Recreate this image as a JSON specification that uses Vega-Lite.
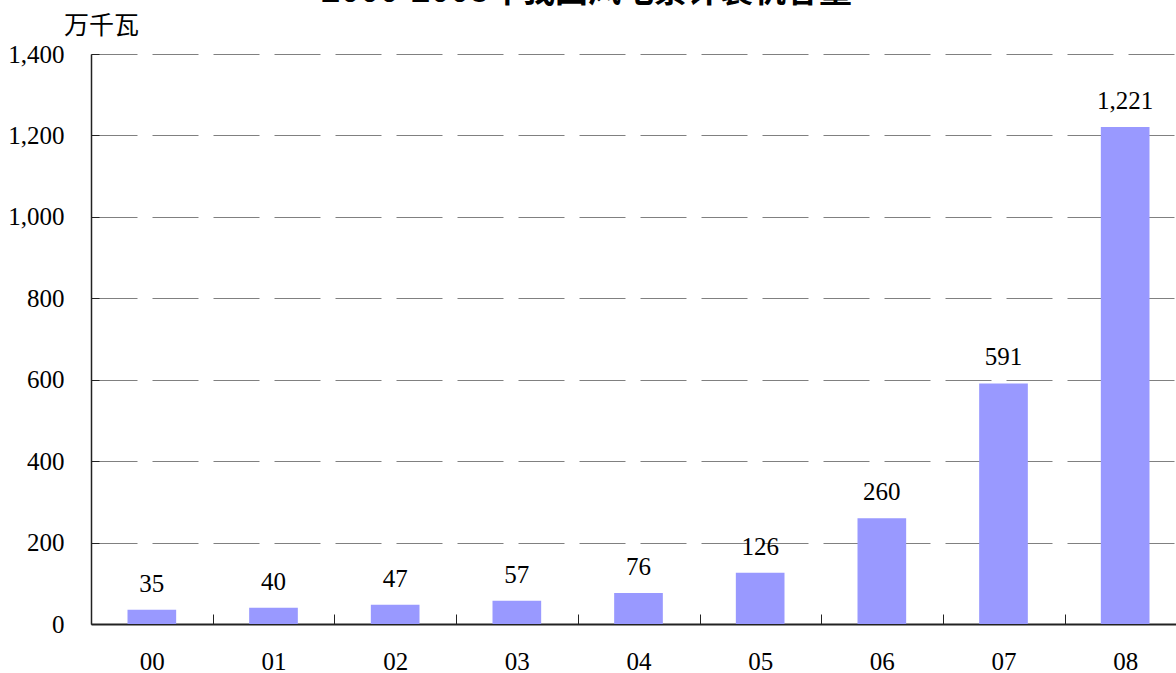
{
  "$schema": "https://vega.github.io/schema/vega-lite/v6.json",
  "autosize": {"type": "none"},
  "padding": {"left": 91, "top": 54, "right": 0, "bottom": 49},
  "width": 1085,
  "height": 570,
  "background": "white",
  "title": {
    "text": "2000-2008年我国风电累计装机容量",
    "font": "Noto Sans CJK SC",
    "fontSize": 33,
    "fontWeight": "bold",
    "color": "black",
    "frame": "group",
    "anchor": "middle",
    "baseline": "alphabetic",
    "offset": 10,
    "dy": 32,
    "dx": -47
  },
  "data": {
    "values": [
      {"year": "00", "value": 35},
      {"year": "01", "value": 40},
      {"year": "02", "value": 47},
      {"year": "03", "value": 57},
      {"year": "04", "value": 76},
      {"year": "05", "value": 126},
      {"year": "06", "value": 260},
      {"year": "07", "value": 591},
      {"year": "08", "value": 1221}
    ]
  },
  "encoding": {
    "x": {
      "field": "year",
      "type": "ordinal",
      "scale": {"paddingInner": 0.6, "paddingOuter": 0.3, "range": [0, 1095]},
      "axis": {
        "title": null,
        "labelAngle": 0,
        "labelFont": "Liberation Serif",
        "labelFontSize": 25,
        "labelColor": "black",
        "labelPadding": 35,
        "tickOffset": 61,
        "labelOffset": -61,
        "tickSize": -10,
        "tickColor": "#222",
        "domainColor": "#222",
        "domainWidth": 2,
        "grid": false
      }
    },
    "y": {
      "field": "value",
      "type": "quantitative",
      "scale": {"domain": [0, 1400], "nice": false},
      "axis": {
        "values": [0, 200, 400, 600, 800, 1000, 1200, 1400],
        "format": ",.0f",
        "title": "万千瓦",
        "titleAngle": 0,
        "titleFont": "Noto Sans CJK SC",
        "titleFontSize": 25,
        "titleFontWeight": "normal",
        "titleColor": "black",
        "titleAlign": "center",
        "titleBaseline": "middle",
        "titleX": 10,
        "titleY": -29,
        "labelFont": "Liberation Serif",
        "labelFontSize": 25,
        "labelColor": "black",
        "labelPadding": 35,
        "tickSize": -8,
        "tickColor": "#222",
        "domainColor": "#222",
        "domainWidth": 1.5,
        "grid": true,
        "gridColor": "#808080",
        "gridDash": [46, 15],
        "gridWidth": 1
      }
    }
  },
  "layer": [
    {"mark": {"type": "bar", "color": "#9999FF"}},
    {
      "mark": {"type": "text", "font": "Liberation Serif", "fontSize": 25, "color": "black", "baseline": "alphabetic", "dy": -18},
      "encoding": {"text": {"field": "value", "type": "quantitative", "format": ",.0f"}}
    }
  ],
  "config": {"view": {"stroke": null}}
}
